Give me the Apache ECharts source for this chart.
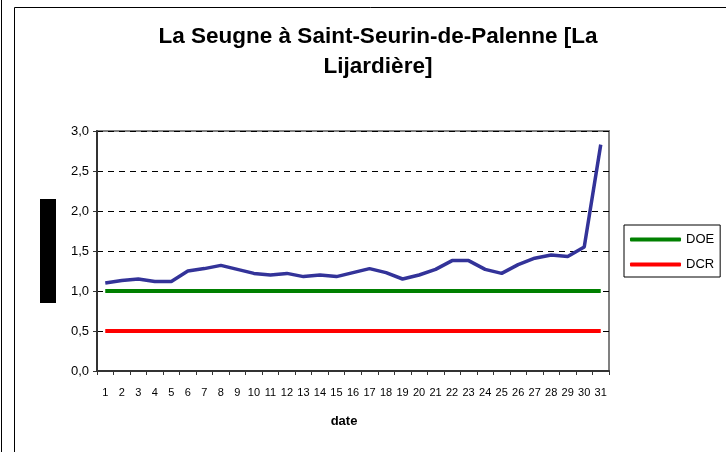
<!DOCTYPE html>
<html>
<head>
<meta charset="utf-8">
<script src="https://cdn.jsdelivr.net/npm/echarts@6/dist/echarts.min.js"></script>
<style>
    html, body { margin: 0; padding: 0; background: #fff; }
    #main { width: 726px; height: 452px; }
</style>
</head>
<body>
<div id="main"></div>
<script>
// jours du mois
var dates = [];
for (var d = 1; d <= 31; d++) dates.push(String(d));

var debit = [1.10, 1.13, 1.15, 1.12, 1.12, 1.25, 1.28, 1.32, 1.27, 1.22,
             1.20, 1.22, 1.18, 1.20, 1.18, 1.23, 1.28, 1.23, 1.15, 1.20,
             1.27, 1.38, 1.38, 1.27, 1.22, 1.33, 1.41, 1.45, 1.43, 1.55, 2.83];
var doe = [1.0, 1.0, 1.0, 1.0, 1.0, 1.0, 1.0, 1.0, 1.0, 1.0,
           1.0, 1.0, 1.0, 1.0, 1.0, 1.0, 1.0, 1.0, 1.0, 1.0,
           1.0, 1.0, 1.0, 1.0, 1.0, 1.0, 1.0, 1.0, 1.0, 1.0, 1.0];
var dcr = [0.5, 0.5, 0.5, 0.5, 0.5, 0.5, 0.5, 0.5, 0.5, 0.5,
           0.5, 0.5, 0.5, 0.5, 0.5, 0.5, 0.5, 0.5, 0.5, 0.5,
           0.5, 0.5, 0.5, 0.5, 0.5, 0.5, 0.5, 0.5, 0.5, 0.5, 0.5];

var font = 'Liberation Sans, Arial, sans-serif';
var myChart = echarts.init(document.getElementById('main'));

var option = {
    animation: false,
    title: {
        text: 'La Seugne à Saint-Seurin-de-Palenne [La\nLijardière]',
        left: 373,
        textAlign: 'center',
        top: 17,
        textStyle: {
            fontFamily: font,
            fontWeight: 'bold',
            fontSize: 22.5,
            lineHeight: 30,
            color: '#000'
        }
    },
    legend: {
        data: ['DOE', 'DCR'],
        orient: 'vertical',
        left: 624,
        top: 225,
        padding: [8, 6, 6, 6],
        itemGap: 12,
        itemWidth: 51,
        itemHeight: 4,
        icon: 'roundRect',
        borderColor: '#000',
        borderWidth: 1,
        textStyle: { fontFamily: font, fontSize: 13, color: '#000' }
    },
    graphic: [
        // cadre extérieur et bloc masqué à gauche
        { type: 'line', shape: { x1: 1.5, y1: 0, x2: 1.5, y2: 452 }, style: { stroke: '#000', lineWidth: 1 } },
        { type: 'polyline', shape: { points: [[14.5, 452], [14.5, 7.5], [726, 7.5]] }, style: { stroke: '#000', fill: null, lineWidth: 1 } },
        { type: 'rect', shape: { x: 40, y: 199, width: 16, height: 104 }, style: { fill: '#000' } }
    ],
    grid: {
        left: 97,
        top: 131,
        width: 512,
        height: 240,
        show: true,
        borderColor: '#808080',
        borderWidth: 2
    },
    xAxis: {
        type: 'category',
        data: dates,
        boundaryGap: true,
        name: 'date',
        nameLocation: 'middle',
        nameGap: 44,
        nameTextStyle: {
            fontFamily: font, fontWeight: 'bold', fontSize: 13, color: '#000',
            padding: [0, 18, 0, 0]
        },
        axisLine: { lineStyle: { color: '#333', width: 2 } },
        axisTick: { show: true, length: 4, interval: 0, lineStyle: { color: '#333' } },
        axisLabel: { interval: 0, margin: 16, fontFamily: font, fontSize: 11, color: '#000' }
    },
    yAxis: {
        type: 'value',
        min: 0,
        max: 3,
        interval: 0.5,
        axisLine: { show: true, lineStyle: { color: '#333', width: 2 } },
        axisTick: { show: true, length: 4, lineStyle: { color: '#333' } },
        axisLabel: {
            margin: 8,
            fontFamily: font, fontSize: 13, color: '#000',
            formatter: function (v) { return v.toFixed(1).replace('.', ','); }
        },
        splitLine: { show: true, lineStyle: { color: '#000', width: 1, type: [6, 5] } }
    },
    series: [
        {
            name: 'DOE',
            type: 'line',
            data: doe,
            symbol: 'none',
            color: '#008000',
            lineStyle: { color: '#008000', width: 4 }
        },
        {
            name: 'DCR',
            type: 'line',
            data: dcr,
            symbol: 'none',
            color: '#ff0000',
            lineStyle: { color: '#ff0000', width: 4 }
        },
        {
            name: 'débit',
            type: 'line',
            data: debit,
            symbol: 'none',
            color: '#333399',
            lineStyle: { color: '#333399', width: 3.5 }
        }
    ]
};

myChart.setOption(option);
</script>
</body>
</html>
